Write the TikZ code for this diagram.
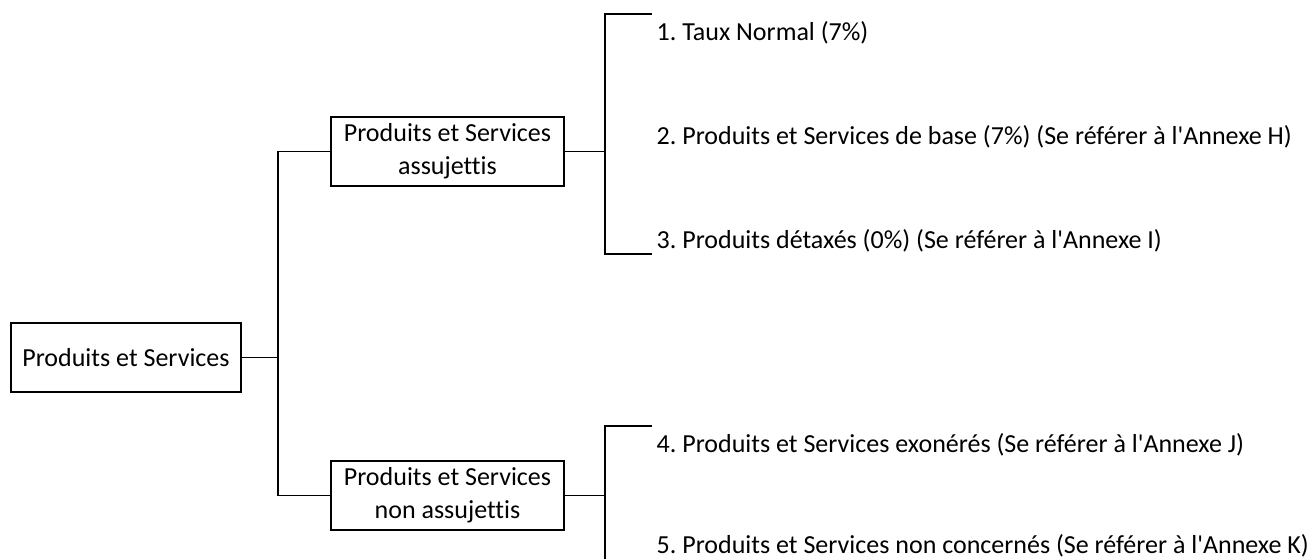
\documentclass[tikz,border=0pt]{standalone}
\usepackage{fontspec}
\setmainfont{Carlito}[Ligatures={TeXOff,NoCommon}]
\frenchspacing

\begin{document}
\begin{tikzpicture}[x=.5pt,y=-.5pt,line width=.7pt,
  box/.style={draw,align=center,inner sep=0pt,minimum height=34.5pt,
    font=\fontsize{13}{16.5}\selectfont},
  item/.style={anchor=west,inner sep=0pt,font=\fontsize{13}{16.5}\selectfont}]
\useasboundingbox (0,0) rectangle (1316,558);

\node[box,minimum width=115pt] (root) at (126,357.5) {Produits et Services};
\node[box,minimum width=116.5pt] (sub1) at (447.5,151.5) {Produits et Services\\assujettis};
\node[box,minimum width=116.5pt] (sub2) at (447.5,495.5) {Produits et Services\\non assujettis};

\node[item] (t1) at (656,33) {1. Taux Normal (7\%)};
\node[item] (t2) at (656,137) {2. Produits et Services de base (7\%) (Se référer à l'Annexe H)};
\node[item] (t3) at (656,241) {3. Produits détaxés (0\%) (Se référer à l'Annexe I)};
\node[item] (t4) at (656,445) {4. Produits et Services exonérés (Se référer à l'Annexe J)};
\node[item] (t5) at (656,546) {5. Produits et Services non concernés (Se référer à l'Annexe K)};

\coordinate (jA) at (278,357.5);
\coordinate (jB) at (605,151.5);
\coordinate (jC) at (605,495.5);
\coordinate (c1) at (652,14);
\coordinate (c3) at (652,254);
\coordinate (c4) at (652,426);
\coordinate (cEnd) at (605,560);

\draw (root) -- (jA);
\draw (sub1.west) -| (jA) |- (sub2.west);
\draw (sub1) -- (jB);
\draw (c1) -| (jB) |- (c3);
\draw (sub2) -- (jC);
\draw (c4) -| (jC) -- (cEnd);

\end{tikzpicture}
\end{document}
